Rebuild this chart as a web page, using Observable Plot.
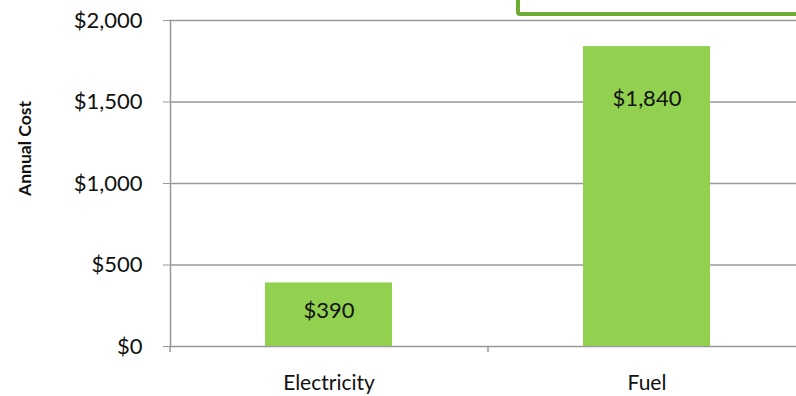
<!DOCTYPE html>
<html>
<head>
<meta charset="utf-8">
<script src="https://cdn.jsdelivr.net/npm/d3@7"></script>
<script src="https://cdn.jsdelivr.net/npm/@observablehq/plot@0.6"></script>
<style>
  html, body { margin: 0; padding: 0; background: #fff; overflow: hidden; }
  #wrap { position: relative; width: 796px; height: 396px; overflow: hidden; }
  #box { position: absolute; left: 516px; top: -20px; width: 300px; height: 28px;
         border: 4px solid #6fac34; border-radius: 4px; background: #fff; }
</style>
</head>
<body>
<div id="wrap"><div id="box"></div></div>
<script>
const categories = ["Electricity", "Fuel"];
const costs = [390, 1840];
const yTicks = [0, 500, 1000, 1500, 2000];

const data = categories.map((c, i) => ({category: c, cost: costs[i]}));
const fmt = d => "$" + d3.format(",")(d);
const font = "Lato, 'Open Sans', sans-serif";

const chart = Plot.plot({
  width: 796,
  height: 396,
  marginLeft: 170,
  marginTop: 20,
  marginBottom: 50,
  marginRight: 0,
  style: {fontFamily: font, fontSize: "22px", color: "#111", background: "transparent"},
  x: {domain: categories, range: [170, 806], paddingInner: 0.6, paddingOuter: 0.3, label: null},
  y: {domain: [0, 2000], range: [346, 20], label: null},
  marks: [
    Plot.ruleY(yTicks, {y: d => d, stroke: "#999", strokeWidth: 1.5}),
    Plot.frame({anchor: "left", stroke: "#999", strokeWidth: 1.5}),
    Plot.axisY({ticks: yTicks, tickFormat: fmt, tickSize: 7, tickPadding: 21, stroke: "#999",
                fontSize: 22, label: null}),
    Plot.axisX({tickSize: 0, tickPadding: 29, fontSize: 21, label: null}),
    Plot.ruleX(categories, {x: d => d, dx: -159, y1: 0, y2: -37, stroke: "#999", strokeWidth: 1.5}),
    Plot.barY(data, {x: "category", y: "cost", fill: "#92d050"}),
    Plot.text(data.filter(d => d.category === "Electricity"),
      {x: "category", y: "cost", text: d => fmt(d.cost), dy: 28, fontSize: 22, fill: "#111"}),
    Plot.text(data.filter(d => d.category === "Fuel"),
      {x: "category", y: "cost", text: d => fmt(d.cost), dy: 52, fontSize: 22, fill: "#111"}),
    Plot.text(["Annual Cost"], {frameAnchor: "left", textAnchor: "middle", dx: -145, dy: -35, rotate: -90,
      text: d => d, fontWeight: "bold", fontSize: 17.5, fill: "#111"})
  ]
});
document.getElementById("wrap").insertBefore(chart, document.getElementById("box"));
</script>
</body>
</html>
